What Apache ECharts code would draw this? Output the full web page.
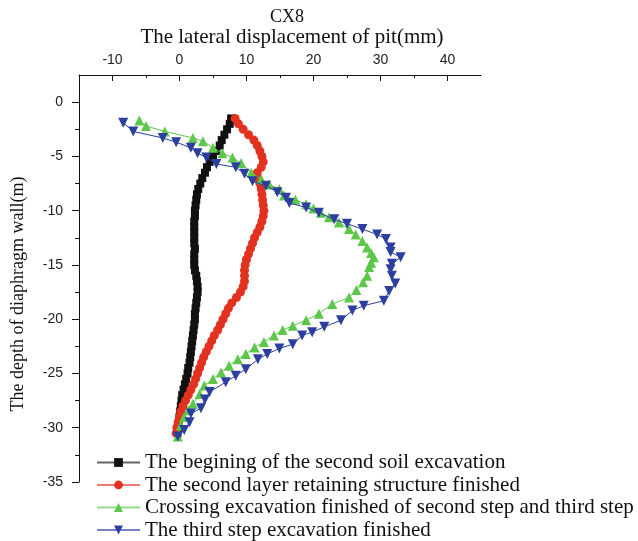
<!DOCTYPE html>
<html>
<head>
<meta charset="utf-8">
<script src="https://cdn.jsdelivr.net/npm/echarts@6/dist/echarts.min.js"></script>
<style>
  html, body { margin: 0; padding: 0; background: #fff; }
  #chart { width: 638px; height: 541px; }
</style>
</head>
<body>
<div id="chart"></div>
<script>
// Inclinometer CX8: lateral wall displacement (mm) against depth (m)
const seriesNames = [
  'The begining of the second soil excavation',
  'The second layer retaining structure finished',
  'Crossing excavation finished of second step and third step',
  'The third step excavation finished'
];

const xMajorTicks = [-10, 0, 10, 20, 30, 40];
const xMinorTicks = [-5, 5, 15, 25, 35];
const yMajorTicks = [-35, -30, -25, -20, -15, -10, -5, 0];
const yMinorTicks = [-32.5, -27.5, -22.5, -17.5, -12.5, -7.5, -2.5];

// Stage 1 and stage 2: readings every 0.5 m
const depthStage12 = [
  -1.5, -2, -2.5, -3, -3.5, -4, -4.5, -5, -5.5, -6, -6.5, -7, -7.5, -8, -8.5, -9, -9.5, -10,
  -10.5, -11, -11.5, -12, -12.5, -13, -13.5, -14, -14.5, -15, -15.5, -16, -16.5, -17, -17.5,
  -18, -18.5, -19, -19.5, -20, -20.5, -21, -21.5, -22, -22.5, -23, -23.5, -24, -24.5, -25,
  -25.5, -26, -26.5, -27, -27.5, -28, -28.5, -29, -29.5, -30, -30.5
];
const dispStage1 = [
  7.7, 7.5, 7.1, 6.7, 6.3, 6.0, 5.5, 5.0, 4.5, 4.1, 3.8, 3.4, 3.1, 2.8, 2.6, 2.5, 2.4, 2.3,
  2.3, 2.2, 2.2, 2.2, 2.2, 2.2, 2.3, 2.2, 2.2, 2.2, 2.3, 2.5, 2.6, 2.7, 2.7,
  2.6, 2.5, 2.4, 2.3, 2.3, 2.2, 2.1, 2.0, 1.9, 1.8, 1.7, 1.6, 1.5, 1.3, 1.2,
  1.0, 0.8, 0.6, 0.4, 0.3, 0.2, 0.1, 0.0, -0.1, -0.2, -0.3
];
const dispStage2 = [
  8.3, 8.8, 9.5, 10.3, 11.1, 11.6, 12.0, 12.3, 12.5, 12.2, 11.6, 11.7, 12.0, 12.2, 12.3, 12.4, 12.5, 12.6,
  12.5, 12.3, 12.0, 11.6, 11.2, 10.9, 10.6, 10.3, 10.0, 9.8, 9.7, 9.7, 9.7, 9.5, 9.1,
  8.5, 7.8, 7.3, 6.9, 6.5, 6.1, 5.7, 5.2, 4.8, 4.4, 4.0, 3.6, 3.3, 3.0, 2.7,
  2.4, 2.1, 1.7, 1.3, 0.9, 0.5, 0.2, 0.0, -0.2, -0.4, -0.5
];

// Stage 3
const depthStage3 = [
  -1.7, -2.2, -2.7, -3.3, -3.6, -4.2, -4.7, -5.1, -5.6, -6.5, -7.1, -7.6, -8.0, -8.6, -9.0,
  -9.4, -9.8, -10.2, -10.6, -11.1, -11.7, -12.2, -12.8, -13.4, -13.9, -14.3, -14.8, -15.2,
  -16.0, -16.6, -17.3, -18.0, -18.6, -19.5, -20.1, -20.6, -21.0, -21.5, -22.1, -22.6, -23.2,
  -23.7, -24.3, -24.9, -25.5, -26.1, -26.9, -27.8, -28.4, -29.0, -29.8, -30.8
];
const dispStage3 = [
  -6.0, -5.0, -2.2, 2.0, 3.5, 5.0, 6.4, 7.9, 9.2, 10.7, 12.2, 13.4, 14.9, 15.6, 17.3,
  18.9, 20.0, 21.1, 22.3, 23.8, 25.3, 26.3, 27.3, 28.0, 28.6, 29.0, 28.6, 28.3,
  28.0, 27.4, 26.4, 25.3, 22.8, 20.8, 18.9, 16.9, 15.4, 14.1, 12.6, 11.2, 9.9,
  8.7, 7.4, 6.2, 5.0, 3.7, 3.0, 2.0, 1.3, 0.7, 0.2, -0.25
];

// Stage 4
const depthStage4 = [
  -1.9, -2.7, -3.3, -3.7, -4.2, -4.7, -5.1, -5.7, -6.0, -6.6, -7.3, -7.7, -8.3, -8.8, -9.3,
  -9.7, -10.2, -10.8, -11.2, -11.7, -12.2, -12.6, -13.4, -13.8, -14.3, -14.9, -15.4, -16.0,
  -16.7, -17.4, -18.3, -18.75, -19.2, -20.1, -20.7, -21.2, -21.5, -22.3, -22.7, -23.2, -23.7,
  -24.6, -25.2, -25.8, -26.7, -27.4, -28.2, -28.7, -29.5, -30.2, -30.8
];
const dispStage4 = [
  -8.4, -6.9, -2.5, -0.5, 1.7, 2.7, 4.0, 5.5, 8.4, 9.7, 10.9, 12.9, 14.6, 15.9, 16.4,
  18.9, 20.8, 23.1, 25.0, 27.3, 29.5, 30.8, 31.5, 31.5, 33.0, 31.7, 31.5, 31.7,
  32.2, 31.3, 30.5, 27.5, 25.8, 24.1, 21.6, 19.8, 18.3, 16.9, 14.9, 13.1, 11.7,
  9.9, 8.4, 6.9, 4.5, 3.8, 3.2, 1.7, 1.5, 0.7, -0.25
];

const colors = ['#111111', '#e2321f', '#5dc74b', '#2c3f9f'];

function pairs(xs, ys) {
  return xs.map((x, i) => [x, ys[i]]);
}

const serif = '"Liberation Serif", "DejaVu Serif", serif';
const sans = '"Liberation Sans", Arial, sans-serif';

const chart = echarts.init(document.getElementById('chart'), null, { renderer: 'canvas' });

function lineSeries(idx, data, symbol, size, rotate) {
  return {
    name: seriesNames[idx],
    type: 'line',
    xAxisIndex: 0,
    yAxisIndex: 0,
    data: data,
    symbol: symbol,
    symbolSize: size,
    symbolRotate: rotate || 0,
    showAllSymbol: true,
    lineStyle: { color: colors[idx], width: 1 },
    itemStyle: { color: colors[idx], borderWidth: 0 },
    emphasis: { disabled: true },
    z: 2 + idx
  };
}

const option = {
  animation: false,
  backgroundColor: '#ffffff',
  grid: { left: 79, top: 75, width: 402, height: 407, containLabel: false },
  xAxis: [
    {
      type: 'value',
      position: 'top',
      min: -15,
      max: 45,
      axisLine: { show: true, onZero: false, lineStyle: { color: '#111', width: 1 } },
      axisTick: { show: true, inside: true, length: 6, customValues: xMajorTicks, lineStyle: { color: '#111' } },
      axisLabel: { customValues: xMajorTicks, margin: 8, color: '#222', fontSize: 14, fontFamily: sans },
      splitLine: { show: false }
    },
    {
      type: 'value',
      position: 'top',
      min: -15,
      max: 45,
      axisLine: { show: false, onZero: false },
      axisTick: { show: true, inside: true, length: 3, customValues: xMinorTicks, lineStyle: { color: '#111' } },
      axisLabel: { show: false },
      splitLine: { show: false }
    }
  ],
  yAxis: [
    {
      type: 'value',
      position: 'left',
      min: -35,
      max: 2.5,
      axisLine: { show: true, onZero: false, lineStyle: { color: '#111', width: 1 } },
      axisTick: { show: true, inside: false, length: 7, customValues: yMajorTicks, lineStyle: { color: '#111' } },
      axisLabel: { customValues: yMajorTicks, margin: 16, color: '#222', fontSize: 14, fontFamily: sans },
      splitLine: { show: false }
    },
    {
      type: 'value',
      position: 'left',
      min: -35,
      max: 2.5,
      axisLine: { show: false, onZero: false },
      axisTick: { show: true, inside: false, length: 4, customValues: yMinorTicks, lineStyle: { color: '#111' } },
      axisLabel: { show: false },
      splitLine: { show: false }
    }
  ],
  legend: {
    orient: 'vertical',
    left: 96,
    top: 452,
    padding: 0,
    height: 89,
    itemWidth: 43,
    itemHeight: 11,
    itemGap: 1.5,
    lineStyle: { opacity: 0.65 },
    textStyle: { fontFamily: serif, fontSize: 21, color: '#111', lineHeight: 21 },
    data: seriesNames,
    selectedMode: false
  },
  graphic: [
    {
      type: 'text',
      x: 287,
      y: 17,
      style: { text: 'CX8', font: '18px ' + serif, fill: '#111', textAlign: 'center', textVerticalAlign: 'middle' }
    },
    {
      type: 'text',
      x: 292,
      y: 37,
      style: { text: 'The lateral displacement of pit(mm)', font: '21px ' + serif, fill: '#111', textAlign: 'center', textVerticalAlign: 'middle' }
    },
    {
      type: 'text',
      x: 18,
      y: 294,
      rotation: Math.PI / 2,
      style: { text: 'The depth of diaphragm wall(m)', font: '18px ' + serif, fill: '#111', textAlign: 'center', textVerticalAlign: 'middle' }
    }
  ],
  series: [
    lineSeries(0, pairs(dispStage1, depthStage12), 'rect', 8),
    lineSeries(1, pairs(dispStage2, depthStage12), 'circle', 9),
    lineSeries(2, pairs(dispStage3, depthStage3), 'triangle', 10),
    lineSeries(3, pairs(dispStage4, depthStage4), 'triangle', 10, 180)
  ]
};

chart.setOption(option);
</script>
</body>
</html>
